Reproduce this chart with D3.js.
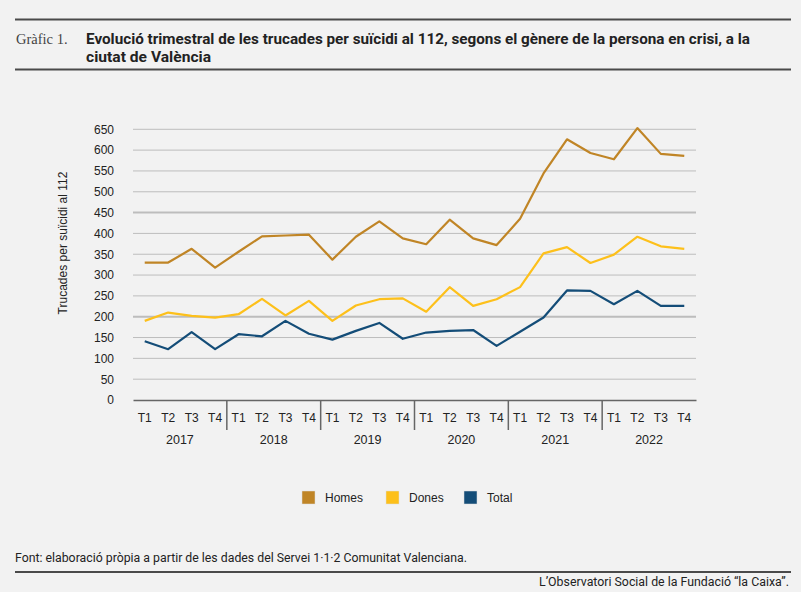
<!DOCTYPE html>
<html>
<head>
<meta charset="utf-8">
<script src="https://cdn.jsdelivr.net/npm/d3@7"></script>
<style>
  body { margin: 0; background: #f2f2f2; }
  svg { display: block; }
  text { fill: #222; }
</style>
</head>
<body>
<svg width="801" height="592"></svg>
<script>
var years = ['2017', '2018', '2019', '2020', '2021', '2022'];
var quarters = ['T1', 'T2', 'T3', 'T4'];
var homes = [330, 330, 363, 318, 356, 393, 395, 397, 337, 392, 429, 388,
             374, 433, 388, 372, 435, 544, 626, 593, 578, 653, 591, 586];
var dones = [190, 210, 202, 198, 206, 243, 203, 238, 190, 227, 242, 244,
             212, 271, 226, 242, 271, 352, 367, 329, 349, 392, 369, 363];
var total = [141, 122, 163, 122, 158, 153, 190, 159, 145, 166, 185, 147,
             162, 166, 168, 130, 164, 198, 263, 262, 230, 262, 226, 226];
var yTicks = [0, 50, 100, 150, 200, 250, 300, 350, 400, 450, 500, 550, 600, 650];
var seriesNames = ['Homes', 'Dones', 'Total'];
var colors = ['#c08526', '#fdc01b', '#144d78'];

var svg = d3.select('svg'),
    narrow = '"Liberation Sans Narrow", "Roboto", Arial, sans-serif',
    sans = '"Liberation Sans", Arial, sans-serif';

// texto comprimido a un ancho dado
function fitText(sel, w) {
  sel.attr('textLength', w).attr('lengthAdjust', 'spacingAndGlyphs');
}

// cabecera
svg.append('line').attr('x1', 15).attr('x2', 791).attr('y1', 19.5).attr('y2', 19.5)
  .attr('stroke', '#4a4a4a').attr('stroke-width', 2);
svg.append('line').attr('x1', 15).attr('x2', 791).attr('y1', 69.5).attr('y2', 69.5)
  .attr('stroke', '#4a4a4a').attr('stroke-width', 2);
svg.append('text').attr('x', 16).attr('y', 44)
  .style('font-family', '"Liberation Serif", "DejaVu Serif", serif')
  .style('font-size', '14.5px').style('fill', '#444')
  .text('Gràfic 1.');
svg.append('text').attr('x', 86).attr('y', 44)
  .style('font-family', narrow).style('font-weight', 'bold').style('font-size', '15px')
  .text('Evolució trimestral de les trucades per suïcidi al 112, segons el gènere de la persona en crisi, a la')
  .call(fitText, 664);
svg.append('text').attr('x', 86).attr('y', 62)
  .style('font-family', narrow).style('font-weight', 'bold').style('font-size', '15px')
  .text('ciutat de València')
  .call(fitText, 125);

// escalas
var labels = [];
years.forEach(function(yr) {
  quarters.forEach(function(q) { labels.push(yr + '-' + q); });
});

var x = d3.scaleBand().domain(labels).range([133, 696]);
var y = d3.scaleLinear().domain([0, 650]).range([400, 129.3]);

// rejilla
svg.append('g').selectAll('line')
  .data(yTicks.filter(function(d) { return d > 0; }))
  .enter().append('line')
  .attr('x1', 133).attr('x2', 696)
  .attr('y1', function(d) { return y(d); })
  .attr('y2', function(d) { return y(d); })
  .attr('stroke', '#bdbdbd')
  .attr('stroke-width', function(d) { return (d == 200 || d == 450) ? 2 : 1; });

// eje y
var yAxis = svg.append('g')
  .attr('transform', 'translate(118,0)')
  .call(d3.axisLeft(y).tickValues(yTicks).tickSize(0).tickPadding(4));
yAxis.select('.domain').remove();
yAxis.selectAll('text').style('font-family', sans).style('font-size', '12px').style('fill', '#222');

svg.append('text')
  .attr('transform', 'translate(67,243) rotate(-90)')
  .attr('text-anchor', 'middle')
  .style('font-family', sans).style('font-size', '12px')
  .text('Trucades per suïcidi al 112');

// eje x
var xAxis = svg.append('g')
  .attr('transform', 'translate(0,400)')
  .call(d3.axisBottom(x).tickSize(0).tickPadding(13)
    .tickFormat(function(d) { return d.split('-')[1]; }));
xAxis.select('.domain').attr('stroke', '#666').attr('stroke-width', 1.5);
xAxis.selectAll('text').style('font-family', sans).style('font-size', '12px').style('fill', '#222');

// separadores de año
svg.append('g').selectAll('line')
  .data(years.slice(1))
  .enter().append('line')
  .attr('x1', function(d) { return x(d + '-T1'); })
  .attr('x2', function(d) { return x(d + '-T1'); })
  .attr('y1', 400).attr('y2', 430)
  .attr('stroke', '#666').attr('stroke-width', 1.5);

svg.append('g').selectAll('text')
  .data(years)
  .enter().append('text')
  .attr('x', function(d) { return x(d + '-T2') + x.bandwidth(); })
  .attr('y', 444)
  .attr('text-anchor', 'middle')
  .style('font-family', sans).style('font-size', '12.5px')
  .text(function(d) { return d; });

// líneas
var line = d3.line()
  .x(function(d, i) { return x(labels[i]) + x.bandwidth() / 2; })
  .y(function(d) { return y(d); });

[homes, dones, total].forEach(function(s, i) {
  svg.append('path')
    .attr('d', line(s))
    .attr('fill', 'none')
    .attr('stroke', colors[i])
    .attr('stroke-width', 2.2)
    .attr('stroke-linejoin', 'round');
});

// leyenda
var legX = [302, 386, 464];
var leg = svg.append('g').selectAll('g')
  .data(seriesNames)
  .enter().append('g')
  .attr('transform', function(d, i) { return 'translate(' + legX[i] + ',491)'; });
leg.append('rect').attr('width', 13).attr('height', 13)
  .attr('fill', function(d, i) { return colors[i]; })
  .attr('stroke', '#ddd').attr('stroke-width', 0.5);
leg.append('text').attr('x', 23).attr('y', 11)
  .style('font-family', sans).style('font-size', '12px')
  .text(function(d) { return d; });

// pie
svg.append('text').attr('x', 15).attr('y', 562)
  .style('font-family', narrow).style('font-size', '12.5px')
  .text('Font: elaboració pròpia a partir de les dades del Servei 1·1·2 Comunitat Valenciana.')
  .call(fitText, 452);
svg.append('line').attr('x1', 15).attr('x2', 791).attr('y1', 572).attr('y2', 572)
  .attr('stroke', '#4a4a4a').attr('stroke-width', 2);
svg.append('text').attr('x', 789).attr('y', 586)
  .attr('text-anchor', 'end')
  .style('font-family', narrow).style('font-size', '12.5px')
  .text('L’Observatori Social de la Fundació “la Caixa”.')
  .call(fitText, 250);
</script>
</body>
</html>
